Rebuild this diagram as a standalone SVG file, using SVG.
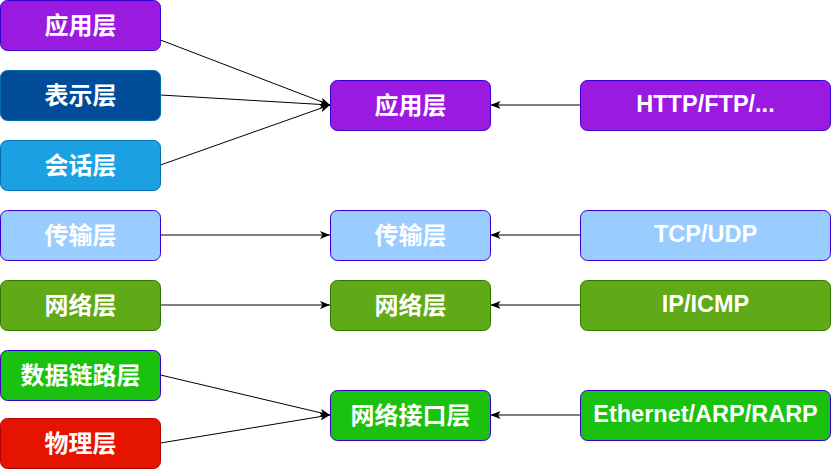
<svg xmlns="http://www.w3.org/2000/svg" width="831" height="470" viewBox="0 0 831 470">
<style>
.b{stroke-width:1}
.t{font-family:"Liberation Sans","Noto Sans CJK SC",Arial,sans-serif;font-weight:bold;font-size:23.5px;fill:#FFFFFF;text-anchor:middle;dominant-baseline:central}
.c{font-family:"Noto Sans CJK SC","Liberation Sans",sans-serif;font-weight:bold;font-size:24px;fill:#FFFFFF;text-anchor:middle;dominant-baseline:central}
.purple{fill:#9A1AE0;stroke:#3700CC}
.navy{fill:#004C99;stroke:#006EAF}
.sky{fill:#1BA1E2;stroke:#006EAF}
.light{fill:#99CCFF;stroke:#3700CC}
.olive{fill:#60A917;stroke:#2D7600}
.green{fill:#1AC10F;stroke:#3700CC}
.red{fill:#E51400;stroke:#B20000}
.e{fill:none;stroke:#000000;stroke-width:1;marker-end:url(#arr)}
</style>
<defs>
<marker id="arr" viewBox="0 0 10 8" refX="10" refY="4" markerWidth="10" markerHeight="8" markerUnits="userSpaceOnUse" orient="auto">
<path d="M0,0 L10,4 L0,8 L2.5,4 Z" fill="#000000"/>
</marker>
</defs>
<g id="connectors">
<path class="e" d="M160.5,40 L330,105"/>
<path class="e" d="M160.5,95 L330,105"/>
<path class="e" d="M160.5,165 L330,105"/>
<path class="e" d="M160.5,235 L330,235"/>
<path class="e" d="M160.5,305 L330,305"/>
<path class="e" d="M160.5,375 L330,415"/>
<path class="e" d="M160.5,443 L330,415"/>
<path class="e" d="M580,105 L490.5,105"/>
<path class="e" d="M580,235 L490.5,235"/>
<path class="e" d="M580,305 L490.5,305"/>
<path class="e" d="M580,415 L490.5,415"/>
</g>
<g id="osi-app"><rect class="b purple" x="0.5" y="0.5" width="160" height="50" rx="7"/><text class="c" x="80.5" y="23">应用层</text></g>
<g id="osi-pres"><rect class="b navy" x="0.5" y="70.5" width="160" height="50" rx="7"/><text class="c" x="80.5" y="93">表示层</text></g>
<g id="osi-sess"><rect class="b sky" x="0.5" y="140.5" width="160" height="50" rx="7"/><text class="c" x="80.5" y="163">会话层</text></g>
<g id="osi-trans"><rect class="b light" x="0.5" y="210.5" width="160" height="50" rx="7"/><text class="c" x="80.5" y="233">传输层</text></g>
<g id="osi-net"><rect class="b olive" x="0.5" y="280.5" width="160" height="50" rx="7"/><text class="c" x="80.5" y="303">网络层</text></g>
<g id="osi-link"><rect class="b green" x="0.5" y="350.5" width="160" height="50" rx="7"/><text class="c" x="80.5" y="373">数据链路层</text></g>
<g id="osi-phy"><rect class="b red" x="0.5" y="418.5" width="160" height="50" rx="7"/><text class="c" x="80.5" y="441">物理层</text></g>
<g id="tcp-app"><rect class="b purple" x="330.5" y="80.5" width="160" height="50" rx="7"/><text class="c" x="410.5" y="103">应用层</text></g>
<g id="tcp-trans"><rect class="b light" x="330.5" y="210.5" width="160" height="50" rx="7"/><text class="c" x="410.5" y="233">传输层</text></g>
<g id="tcp-net"><rect class="b olive" x="330.5" y="280.5" width="160" height="50" rx="7"/><text class="c" x="410.5" y="303">网络层</text></g>
<g id="tcp-link"><rect class="b green" x="330.5" y="390.5" width="160" height="50" rx="7"/><text class="c" x="410.5" y="413">网络接口层</text></g>
<g id="proto-app"><rect class="b purple" x="580.5" y="80.5" width="250" height="50" rx="7"/><text class="t" x="705.5" y="104">HTTP/FTP/...</text></g>
<g id="proto-trans"><rect class="b light" x="580.5" y="210.5" width="250" height="50" rx="7"/><text class="t" x="705.5" y="234">TCP/UDP</text></g>
<g id="proto-net"><rect class="b olive" x="580.5" y="280.5" width="250" height="50" rx="7"/><text class="t" x="705.5" y="304">IP/ICMP</text></g>
<g id="proto-link"><rect class="b green" x="580.5" y="390.5" width="250" height="50" rx="7"/><text class="t" x="705.5" y="414">Ethernet/ARP/RARP</text></g>
</svg>
